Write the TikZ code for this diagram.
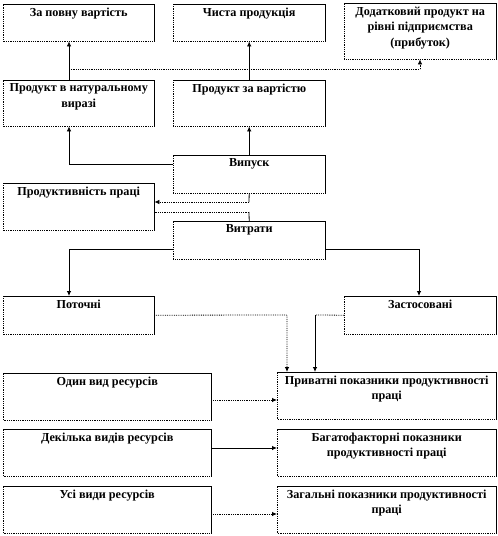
\documentclass[tikz,border=0pt]{standalone}
\usepackage{fontspec}
\setmainfont{Liberation Serif}
\usetikzlibrary{arrows.meta}
\tikzset{
  box/.style={draw=none, inner sep=0pt, anchor=north west},
  txt/.style={anchor=north, inner sep=0pt, align=center, font=\fontsize{12.2}{15.8}\selectfont\bfseries},
  conn/.style={line width=0.8pt},
  dot/.style={line width=0.8pt, densely dotted},
  arr/.style={-{Latex[length=5pt,width=4.5pt]}},
}
\newcommand{\mkbox}[6]{%
  \node[box, minimum width=#4-#2, minimum height=#5-#3] (#1) at (#2,#3) {};
  \node[txt] (#1-t) at ([yshift=-3.5pt]#1.north) {#6};
  \draw[line width=0.8pt] (#1.north west) -- (#1.north east) -- (#1.south east);
  \draw[line width=0.8pt, densely dotted] (#1.south east) -- (#1.south west) -- (#1.north west);
}
\begin{document}
\begin{tikzpicture}[x=1pt,y=-1pt]
\useasboundingbox (0,0) rectangle (498,536);
\mkbox{full}{3}{4}{154}{41}{За повну вартість}
\mkbox{net}{173}{4}{325}{41}{Чиста продукція}
\mkbox{add}{344}{3}{496}{59}{Додатковий продукт на\\рівні підприємства\\(прибуток)}
\mkbox{pnat}{3}{80}{154}{126}{Продукт в натуральному\\виразі}
\mkbox{pval}{173}{80}{325}{126}{Продукт за вартістю}
\mkbox{out}{173}{155}{325}{193}{Випуск}
\mkbox{prod}{3}{183}{154}{230}{Продуктивність праці}
\mkbox{cost}{173}{221}{325}{259}{Витрати}
\mkbox{cur}{3}{296}{154}{334}{Поточні}
\mkbox{app}{344}{296}{496}{334}{Застосовані}
\mkbox{r1}{3}{373}{211}{420}{Один вид ресурсів}
\mkbox{pr1}{277}{372}{496}{419}{Приватні показники продуктивності\\праці}
\mkbox{r2}{3}{429}{211}{476}{Декілька видів ресурсів}
\mkbox{pr2}{277}{429}{496}{476}{Багатофакторні показники\\продуктивності праці}
\mkbox{r3}{3}{486}{211}{533}{Усі види ресурсів}
\mkbox{pr3}{277}{486}{496}{533}{Загальні показники продуктивності\\праці}

\coordinate (c1) at (69,69);
\coordinate (c2) at (420,69);
\coordinate (c3) at (69,164);
\coordinate (c4) at (69,249);
\coordinate (c5) at (419,249);
\coordinate (c6) at (287,315);
\coordinate (c7) at (315,315);
\coordinate (c8) at (0,400);
\coordinate (c9) at (0,448);
\coordinate (c10) at (0,514);
\coordinate (d1) at (249,202);
\coordinate (d2) at (249,212);

\draw[conn,arr] (c1 |- pnat.north) -- (c1 |- full.south);
\draw[dot] (c1) -- (c2);
\draw[dot,arr] (c2) -- (c2 |- add.south);
\draw[conn,arr] (pval.north) -- (net.south);
\draw[conn,arr] (c3 -| out.west) -- (c3) -- (c3 |- pnat.south);
\draw[conn,arr] (out.north) -- (pval.south);
\draw[conn] (out.south) -- (d1);
\draw[dot,arr] (d1) -- (d1 -| prod.east);
\draw[conn] (cost.north) -- (d2);
\draw[dot] (d2) -- (d2 -| prod.east);
\draw[conn,arr] (c4 -| cost.west) -- (c4) -- (c4 |- cur.north);
\draw[conn,arr] (c5 -| cost.east) -- (c5) -- (c5 |- app.north);
\draw[dot,arr] (cur.east) -- (c6) -- (c6 |- pr1.north);
\draw[dot] (app.west) -- (c7);
\draw[conn,arr] (c7) -- (c7 |- pr1.north);
\draw[dot,arr] (c8 -| r1.east) -- (c8 -| pr1.west);
\draw[conn,arr] (c9 -| r2.east) -- (c9 -| pr2.west);
\draw[dot,arr] (c10 -| r3.east) -- (c10 -| pr3.west);
\end{tikzpicture}
\end{document}
